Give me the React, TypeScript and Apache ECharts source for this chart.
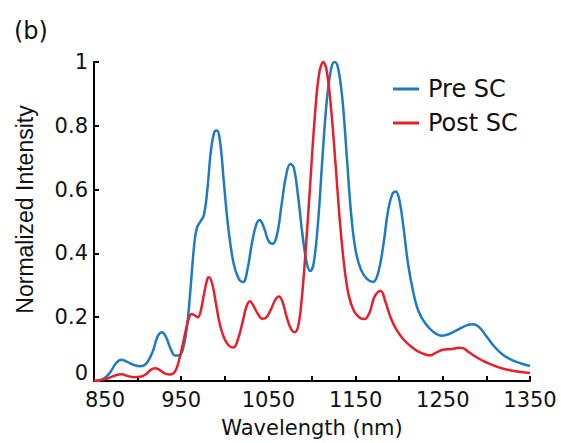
import React, { useEffect, useRef } from "react";
import * as echarts from "echarts";

const preWavelengths = [850, 860, 868, 875, 881, 888, 896, 903, 910, 917, 923, 928, 933, 938, 943, 947, 952, 957, 961, 965, 968, 972, 976, 980, 984, 988, 991, 995, 999, 1004, 1010, 1016, 1021, 1026, 1031, 1036, 1040, 1045, 1050, 1055, 1060, 1065, 1070, 1075, 1079, 1084, 1089, 1094, 1098, 1102, 1107, 1112, 1117, 1122, 1126, 1130, 1135, 1140, 1145, 1150, 1156, 1163, 1170, 1176, 1182, 1187, 1192, 1196, 1200, 1205, 1210, 1216, 1222, 1230, 1240, 1249, 1258, 1268, 1278, 1285, 1292, 1300, 1310, 1320, 1330, 1340, 1350];
const preValues = [0.0, 0.005, 0.025, 0.055, 0.067, 0.06, 0.05, 0.046, 0.055, 0.09, 0.14, 0.153, 0.135, 0.1, 0.08, 0.08, 0.1, 0.18, 0.3, 0.43, 0.48, 0.5, 0.52, 0.6, 0.72, 0.78, 0.785, 0.74, 0.62, 0.48, 0.37, 0.32, 0.31, 0.35, 0.43, 0.49, 0.505, 0.48, 0.44, 0.43, 0.46, 0.55, 0.64, 0.68, 0.67, 0.58, 0.46, 0.37, 0.345, 0.37, 0.5, 0.7, 0.88, 0.98, 1.0, 0.98, 0.88, 0.7, 0.52, 0.41, 0.35, 0.32, 0.31, 0.34, 0.43, 0.53, 0.585, 0.594, 0.57, 0.48, 0.37, 0.28, 0.22, 0.18, 0.152, 0.142, 0.148, 0.162, 0.175, 0.178, 0.168, 0.14, 0.105, 0.08, 0.065, 0.055, 0.047];

const postWavelengths = [850, 862, 870, 876, 882, 888, 895, 903, 910, 915, 920, 925, 931, 937, 943, 948, 953, 958, 962, 966, 969, 972, 976, 980, 982, 986, 990, 995, 1000, 1005, 1010, 1015, 1020, 1025, 1029, 1033, 1038, 1043, 1048, 1053, 1058, 1062, 1066, 1071, 1076, 1080, 1084, 1088, 1093, 1098, 1103, 1108, 1113, 1117, 1122, 1127, 1132, 1137, 1142, 1148, 1154, 1160, 1166, 1171, 1176, 1179, 1184, 1190, 1197, 1205, 1215, 1225, 1235, 1243, 1250, 1260, 1268, 1273, 1280, 1290, 1300, 1315, 1330, 1340, 1350];
const postValues = [0.0, 0.005, 0.013, 0.019, 0.021, 0.016, 0.012, 0.013, 0.022, 0.035, 0.04, 0.035, 0.024, 0.02, 0.03, 0.07, 0.13, 0.19, 0.21, 0.205, 0.2, 0.215, 0.27, 0.32, 0.325, 0.3, 0.24, 0.17, 0.13, 0.11, 0.105, 0.13, 0.18, 0.235, 0.25, 0.235, 0.21, 0.195, 0.2, 0.225, 0.255, 0.265, 0.25, 0.2, 0.163, 0.153, 0.17, 0.25, 0.42, 0.62, 0.82, 0.96, 1.0, 0.97, 0.85, 0.68, 0.5, 0.36, 0.27, 0.22, 0.2, 0.194, 0.215, 0.26, 0.28, 0.282, 0.25, 0.2, 0.16, 0.13, 0.105, 0.088, 0.08, 0.09, 0.098, 0.1, 0.104, 0.103, 0.09, 0.072, 0.058, 0.042, 0.032, 0.028, 0.025];

const xTickLabels = [850, 950, 1050, 1150, 1250, 1350];
const yTickLabels = ["0", "0.2", "0.4", "0.6", "0.8", "1"];
const seriesNames = ["Pre SC", "Post SC"];
const seriesColors = ["#1f7bc1", "#e4202c"];

const FONT = "DejaVu Sans";

export default function App() {
  const ref = useRef<HTMLDivElement>(null);
  useEffect(() => {
    if (!ref.current) return;
    const chart = echarts.init(ref.current, undefined, { renderer: "svg" });
    const pre = preWavelengths.map((w, i) => [w, preValues[i]]);
    const post = postWavelengths.map((w, i) => [w, postValues[i]]);
    chart.setOption({
      animation: false,
      backgroundColor: "#ffffff",
      grid: { left: 94, right: 31, top: 62, bottom: 61, containLabel: false },
      graphic: [
        {
          type: "text",
          left: 14,
          top: 19,
          style: { text: "(b)", font: `24px "${FONT}"`, fill: "#111" },
        },
      ],
      legend: {
        orient: "vertical",
        left: 388,
        top: 72,
        itemWidth: 26,
        itemHeight: 3,
        itemGap: 10,
        icon: "rect",
        data: seriesNames,
        textStyle: {
          fontFamily: FONT,
          fontSize: 24,
          lineHeight: 24,
          color: "#111",
          padding: [0, 0, 0, 4],
        },
      },
      xAxis: {
        type: "value",
        min: 850,
        max: 1350,
        interval: 50,
        name: "Wavelength (nm)",
        nameLocation: "middle",
        nameGap: 36,
        nameTextStyle: { fontFamily: FONT, fontSize: 21, color: "#111" },
        axisLine: { lineStyle: { color: "#000", width: 2 } },
        axisTick: { inside: true, length: 5, lineStyle: { color: "#000", width: 2 } },
        splitLine: { show: false },
        axisLabel: {
          fontFamily: FONT,
          fontSize: 21,
          color: "#111",
          margin: 8,
          formatter: (v: number) => {
            if (xTickLabels.indexOf(v) < 0) return "";
            return v === xTickLabels[0] ? `{first|${v}}` : String(v);
          },
          rich: {
            first: { fontFamily: FONT, fontSize: 21, color: "#111", padding: [0, 0, 0, 22] },
          },
        },
      },
      yAxis: {
        type: "value",
        min: 0,
        max: 1,
        interval: 0.2,
        name: "Normalized Intensity",
        nameLocation: "middle",
        nameGap: 58,
        nameTextStyle: { fontFamily: "Liberation Sans", fontSize: 23, color: "#111", padding: [0, 0, 0, 24] },
        axisLine: { show: true, lineStyle: { color: "#000", width: 2 } },
        axisTick: { show: true, inside: true, length: 5, lineStyle: { color: "#000", width: 2 } },
        splitLine: { show: false },
        axisLabel: {
          fontFamily: FONT,
          fontSize: 21,
          color: "#111",
          margin: 6,
          formatter: (v: number) => {
            const idx = Math.round(v / 0.2);
            const s = yTickLabels[idx] ?? "";
            return idx === 0 ? `{zero|${s}}` : s;
          },
          rich: {
            zero: { fontFamily: FONT, fontSize: 21, color: "#111", padding: [0, 0, 16, 0] },
          },
        },
      },
      series: [
        {
          name: seriesNames[0],
          type: "line",
          data: pre,
          smooth: 0.4,
          symbol: "none",
          lineStyle: { color: seriesColors[0], width: 2.5 },
          itemStyle: { color: seriesColors[0] },
          z: 2,
        },
        {
          name: seriesNames[1],
          type: "line",
          data: post,
          smooth: 0.4,
          symbol: "none",
          lineStyle: { color: seriesColors[1], width: 2.5 },
          itemStyle: { color: seriesColors[1] },
          z: 3,
        },
      ],
    });
    return () => chart.dispose();
  }, []);
  return <div ref={ref} style={{ width: 561, height: 443, position: "absolute", left: 0, top: 0 }} />;
}
